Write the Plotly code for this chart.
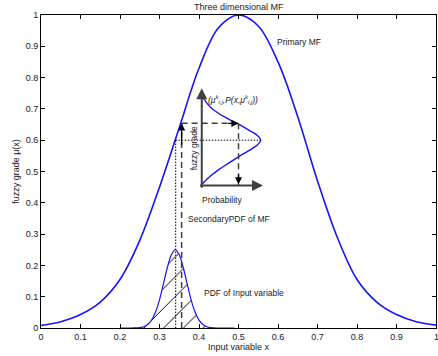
import plotly.graph_objects as go

# ---- data ----
mf_x = [0, 0.05, 0.1, 0.15, 0.2, 0.25, 0.3, 0.35, 0.4, 0.45, 0.5,
        0.55, 0.6, 0.65, 0.7, 0.75, 0.8, 0.85, 0.9, 0.95, 1.0]
mf_y = [0.008, 0.02, 0.043, 0.083, 0.155, 0.28, 0.45, 0.64, 0.83, 0.96, 1.0,
        0.965, 0.85, 0.675, 0.47, 0.29, 0.155, 0.083, 0.043, 0.02, 0.009]

pdf_x = [0.2, 0.23, 0.25, 0.26, 0.27, 0.28, 0.29, 0.30, 0.31, 0.32, 0.33, 0.34,
         0.35, 0.36, 0.37, 0.38, 0.39, 0.40, 0.41, 0.42, 0.43, 0.45, 0.49]
pdf_y = [0.0, 0.0, 0.001, 0.004, 0.011, 0.025, 0.051, 0.090, 0.141, 0.194, 0.234, 0.25,
         0.234, 0.194, 0.141, 0.090, 0.051, 0.025, 0.011, 0.004, 0.001, 0.0, 0.0]

sec_x = [0.408, 0.424, 0.449, 0.474, 0.500, 0.525, 0.546, 0.556,
         0.546, 0.525, 0.500, 0.474, 0.449, 0.424, 0.408]
sec_y = [0.742, 0.712, 0.686, 0.668, 0.651, 0.633, 0.617, 0.600,
         0.583, 0.566, 0.547, 0.526, 0.505, 0.480, 0.460]

tick_vals = [0, 0.1, 0.2, 0.3, 0.4, 0.5, 0.6, 0.7, 0.8, 0.9, 1]
tick_text = ["0", "0.1", "0.2", "0.3", "0.4", "0.5", "0.6", "0.7", "0.8", "0.9", "1"]

# guide positions (data units)
x_sample = 0.341      # input sample (dotted)
x_dash = 0.356        # dashed vertical
mu_level = 0.6        # fuzzy grade level (dotted)
mu_dash = 0.654       # dashed level
p_dash = 0.5          # probability at dashed level
inset_x0, inset_x1 = 0.407, 0.562
inset_y0, inset_y1 = 0.455, 0.766
sec_peak = 0.556

BLUE = "#1414ff"
GREY = "#404040"
TXT = "#222"
FONT = "Liberation Sans, Arial, Helvetica, sans-serif"

fig = go.Figure()

fig.add_trace(go.Scatter(x=pdf_x, y=pdf_y, mode="lines",
                         line=dict(color=BLUE, width=1.2, shape="spline", smoothing=0.8),
                         fill="tozeroy", fillcolor="rgba(0,0,0,0)",
                         fillpattern=dict(shape="/", fgcolor="black", bgcolor="rgba(0,0,0,0)",
                                          size=14, solidity=0.07, fillmode="replace"),
                         hoverinfo="skip"))
fig.add_trace(go.Scatter(x=mf_x, y=mf_y, mode="lines",
                         line=dict(color=BLUE, width=1.6, shape="spline", smoothing=1.0),
                         hoverinfo="skip"))
fig.add_trace(go.Scatter(x=sec_x, y=sec_y, mode="lines",
                         line=dict(color=BLUE, width=1.4, shape="spline", smoothing=1.0),
                         hoverinfo="skip"))

# guide lines
dot = dict(color="black", width=1, dash="1.5px,1.5px")
dsh = dict(color=GREY, width=1.5, dash="6px,4px")
fig.add_shape(type="line", x0=x_sample, x1=x_sample, y0=0, y1=mu_level, line=dot)
fig.add_shape(type="line", x0=x_sample, x1=sec_peak, y0=mu_level, y1=mu_level, line=dot)
fig.add_shape(type="line", x0=x_dash, x1=x_dash, y0=0, y1=mu_dash, line=dsh)
fig.add_shape(type="line", x0=x_dash, x1=p_dash, y0=mu_dash, y1=mu_dash, line=dsh)
fig.add_shape(type="line", x0=p_dash, x1=p_dash, y0=mu_dash, y1=inset_y0, line=dsh)

def arrow(x, y, ax, ay, width=1.2, color="black"):
    fig.add_annotation(x=x, y=y, ax=ax, ay=ay, xref="x", yref="y", axref="x", ayref="y",
                       text="", showarrow=True, arrowhead=2, arrowsize=1.1,
                       arrowwidth=width, arrowcolor=color)

arrow(inset_x0, inset_y1, inset_x0, inset_y0 - 0.012, width=2, color=GREY)
arrow(inset_x1, inset_y0, inset_x0 - 0.008, inset_y0, width=2, color=GREY)
arrow(x_dash, mu_dash, x_dash, 0.58, width=1.3)
arrow(p_dash, mu_dash, p_dash - 0.03, mu_dash, width=1.3)
arrow(p_dash, inset_y0 + 0.004, p_dash, inset_y0 + 0.04, width=1.3)

def label(x, y, text, xanchor="left", size=8.5, angle=0):
    fig.add_annotation(x=x, y=y, xref="x", yref="y", text=text, showarrow=False,
                       xanchor=xanchor, yanchor="middle", textangle=angle,
                       font=dict(family=FONT, size=size, color=TXT))

label(0.592, 0.914, "Primary MF")
label(0.367, 0.349, "SecondaryPDF of MF")
label(0.407, 0.113, "PDF of Input variable")
label(0.458, 0.409, "Probability", xanchor="center")
label(0.388, 0.575, "fuzzy grade", xanchor="center", angle=-90)
label(0.418, 0.73, "<i>(μ<sup>k</sup><sub>i,j</sub>,P(x,μ<sup>k</sup><sub>i,j</sub>))</i>", size=8.5)

# last x tick label sits on the right edge of the figure
fig.add_annotation(x=tick_vals[-1], y=0, xref="x", yref="paper", text=tick_text[-1],
                   showarrow=False, xanchor="center", yanchor="top", yshift=-2,
                   font=dict(family=FONT, size=9, color=TXT))

axis_common = dict(range=[0, 1], tickmode="array", tickvals=tick_vals, ticktext=tick_text,
                   ticks="inside", ticklen=4, tickcolor="black", showgrid=False, zeroline=False,
                   showline=True, linecolor="black", linewidth=1, mirror="ticks",
                   automargin=False,
                   tickfont=dict(family=FONT, size=9, color=TXT))

fig.update_layout(
    width=438, height=356, autosize=False,
    margin=dict(l=41, r=2, t=15, b=28, autoexpand=False),
    paper_bgcolor="white", plot_bgcolor="white",
    showlegend=False,
    title=dict(text="Three dimensional MF", x=0.545, xanchor="center", y=0.99, yanchor="top",
               font=dict(family=FONT, size=9, color=TXT)),
    xaxis=dict(axis_common, title=dict(text="Input variable x", standoff=2,
                                       font=dict(family=FONT, size=9, color=TXT))),
    yaxis=dict(axis_common, title=dict(text="fuzzy grade μ(x)", standoff=4,
                                       font=dict(family=FONT, size=9, color=TXT))),
)

fig.write_html("out.html", config={"responsive": False, "displayModeBar": False})

# remove default page margin so the figure sits at the window origin
with open("out.html", "r", encoding="utf-8") as f:
    html = f.read()
html = html.replace("<head>", "<head><style>html,body{margin:0;padding:0;overflow:hidden;}</style>", 1)
with open("out.html", "w", encoding="utf-8") as f:
    f.write(html)
